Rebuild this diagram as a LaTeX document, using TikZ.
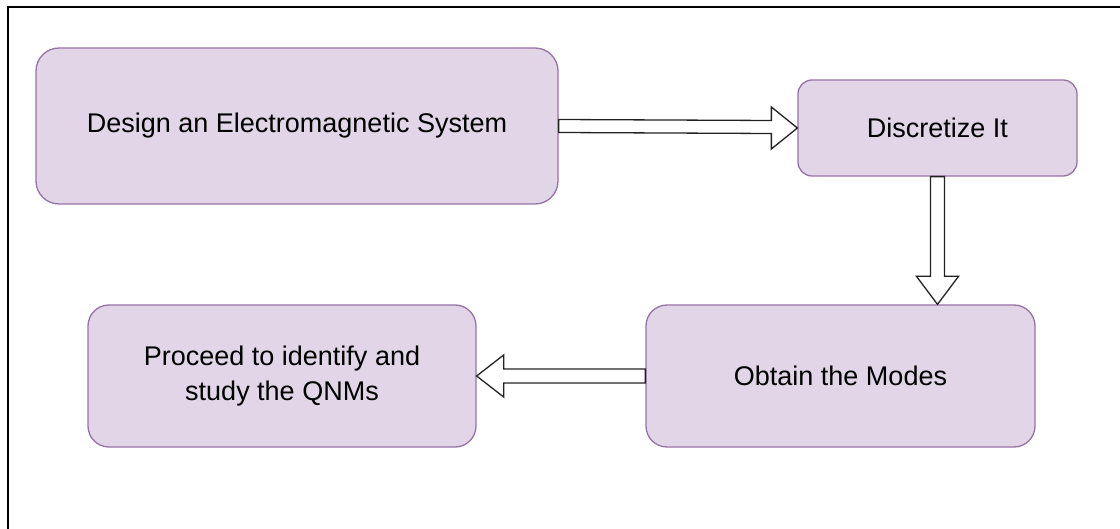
\documentclass[tikz,border=0pt]{standalone}
\usepackage{fontspec}
\setmainfont{Liberation Sans}
\usetikzlibrary{calc}
\definecolor{boxfill}{HTML}{E1D5E7}
\definecolor{boxdraw}{HTML}{9673A6}
\definecolor{arrdraw}{HTML}{222222}
\tikzset{
  stepbox/.style={draw=boxdraw, fill=boxfill, line width=1.3pt, align=center,
    font=\fontsize{27}{35}\selectfont, inner sep=0pt},
  bigarrow/.style={draw=arrdraw, fill=white, line width=1.3pt, line join=miter},
}
\begin{document}
\begin{tikzpicture}[x=1pt,y=1pt]
\useasboundingbox (0,0) rectangle (1120,-529);
\draw[line width=1.5pt, black] (8,-529) -- (8,-7) -- (1120,-7);

\node[stepbox, minimum width=522pt, minimum height=156pt, rounded corners=23pt] (b1) at (297,-126) {Design an Electromagnetic System};
\node[stepbox, minimum width=279pt, minimum height=96pt, rounded corners=14pt] (b2) at (937.5,-128) {Discretize It};
\node[stepbox, minimum width=389pt, minimum height=142pt, rounded corners=21pt] (b3) at (840.5,-376) {Obtain the Modes};
\node[stepbox, minimum width=388pt, minimum height=142pt, rounded corners=21pt] (b4) at (282,-376) {Proceed to identify and\\study the QNMs};

% arrow 1: b1 -> b2
\draw[bigarrow] ($(b1.east)+(0,6.5)$) -- ($(b2.west)+(-26,7.5)$) -- ($(b2.west)+(-26,21)$)
  -- (b2.west) -- ($(b2.west)+(-26,-21)$) -- ($(b2.west)+(-26,-5.5)$) -- ($(b1.east)+(0,-6.5)$) -- cycle;

% arrow 2: b2 -> b3
\coordinate (t2) at (b2.south |- b3.north);
\draw[bigarrow] ($(b2.south)+(-7,0)$) -- ($(t2)+(-7,28)$) -- ($(t2)+(-21,28)$)
  -- (t2) -- ($(t2)+(21,28)$) -- ($(t2)+(7,28)$) -- ($(b2.south)+(7,0)$) -- cycle;

% arrow 3: b3 -> b4
\draw[bigarrow] ($(b3.west)+(0,7)$) -- ($(b4.east)+(27,7)$) -- ($(b4.east)+(27,21)$)
  -- (b4.east) -- ($(b4.east)+(27,-21)$) -- ($(b4.east)+(27,-7)$) -- ($(b3.west)+(0,-7)$) -- cycle;
\end{tikzpicture}
\end{document}
